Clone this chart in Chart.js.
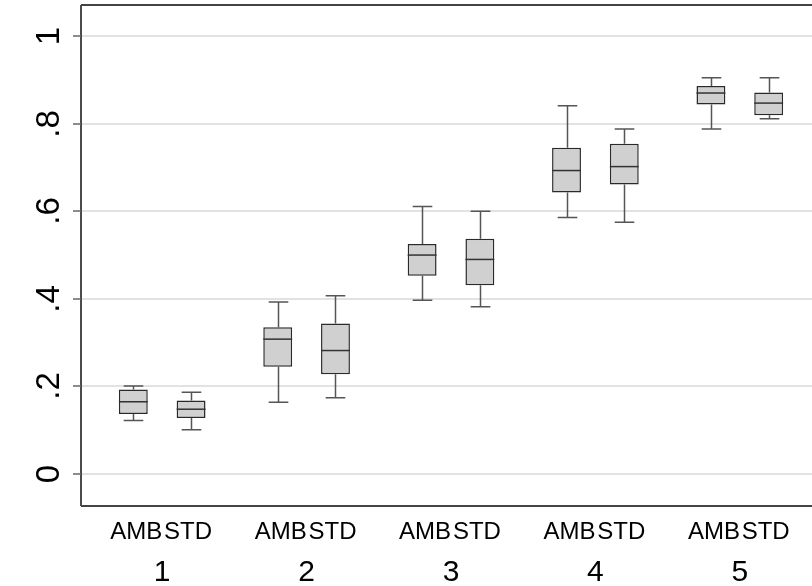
<!DOCTYPE html>
<html>
<head>
<meta charset="utf-8">
<script src="https://cdn.jsdelivr.net/npm/chart.js@4/dist/chart.umd.min.js"></script>
<style>
  html, body { margin: 0; padding: 0; background: #fff; }
  #chart { display: block; }
</style>
</head>
<body>
<canvas id="chart" width="812" height="586"></canvas>
<script>
// Groups and series
const groups = ['1', '2', '3', '4', '5'];
const seriesNames = ['AMB', 'STD'];

// AMB box stats
const ambLow = [0.122, 0.164, 0.397, 0.586, 0.788];
const ambQ1 = [0.137, 0.245, 0.453, 0.643, 0.844];
const ambMed = [0.165, 0.308, 0.500, 0.693, 0.870];
const ambQ3 = [0.193, 0.335, 0.525, 0.745, 0.886];
const ambHigh = [0.201, 0.393, 0.611, 0.841, 0.905];

// STD box stats
const stdLow = [0.101, 0.174, 0.382, 0.575, 0.811];
const stdQ1 = [0.128, 0.228, 0.431, 0.661, 0.819];
const stdMed = [0.148, 0.282, 0.490, 0.702, 0.847];
const stdQ3 = [0.168, 0.344, 0.537, 0.754, 0.871];
const stdHigh = [0.187, 0.407, 0.600, 0.788, 0.905];

// Y axis ticks
const yTicks = [0, 0.2, 0.4, 0.6, 0.8, 1];
const yTickLabels = ['0', '.2', '.4', '.6', '.8', '1'];

const stats = [
  { low: ambLow, med: ambMed, high: ambHigh },
  { low: stdLow, med: stdMed, high: stdHigh },
];

const FONT = '"Liberation Sans", Arial, sans-serif';
const FRAME_LEFT = 81;

/**
 * Whiskers, medians, grid, frame and labels
 */
const boxPlotExtras = {
  id: 'boxPlotExtras',
  beforeDatasetsDraw(chart) {
    const { ctx, chartArea } = chart;
    const y = chart.scales.y;

    // gridlines
    ctx.save();
    ctx.strokeStyle = '#e2e2e2';
    ctx.lineWidth = 2;
    yTicks.forEach((v) => {
      const py = Math.round(y.getPixelForValue(v));
      ctx.beginPath();
      ctx.moveTo(FRAME_LEFT, py);
      ctx.lineTo(chartArea.right, py);
      ctx.stroke();
    });

    // whiskers
    ctx.strokeStyle = '#555';
    ctx.lineWidth = 1.5;
    chart.data.datasets.forEach((ds, di) => {
      const meta = chart.getDatasetMeta(di);
      meta.data.forEach((bar, i) => {
        const s = stats[di];
        const cx = Math.round(bar.x) + 0.5;
        const half = bar.width * 0.34;
        const pLow = y.getPixelForValue(s.low[i]);
        const pHigh = y.getPixelForValue(s.high[i]);
        const pQ1 = y.getPixelForValue(ds.data[i][0]);
        const pQ3 = y.getPixelForValue(ds.data[i][1]);
        ctx.beginPath();
        ctx.moveTo(cx, pQ1);
        ctx.lineTo(cx, pLow);
        ctx.moveTo(cx, pQ3);
        ctx.lineTo(cx, pHigh);
        ctx.moveTo(cx - half, pLow);
        ctx.lineTo(cx + half, pLow);
        ctx.moveTo(cx - half, pHigh);
        ctx.lineTo(cx + half, pHigh);
        ctx.stroke();
      });
    });
    ctx.restore();
  },
  afterDatasetsDraw(chart) {
    const { ctx } = chart;
    const y = chart.scales.y;

    // medians
    ctx.save();
    ctx.strokeStyle = '#333';
    ctx.lineWidth = 1.5;
    chart.data.datasets.forEach((ds, di) => {
      const meta = chart.getDatasetMeta(di);
      meta.data.forEach((bar, i) => {
        const py = y.getPixelForValue(stats[di].med[i]);
        ctx.beginPath();
        ctx.moveTo(bar.x - bar.width / 2, py);
        ctx.lineTo(bar.x + bar.width / 2, py);
        ctx.stroke();
      });
    });
    ctx.restore();
  },
  afterDraw(chart) {
    const { ctx, chartArea } = chart;
    const x = chart.scales.x;
    const y = chart.scales.y;

    ctx.save();
    // frame
    ctx.strokeStyle = '#111';
    ctx.lineWidth = 1.5;
    ctx.beginPath();
    ctx.moveTo(FRAME_LEFT, chartArea.top);
    ctx.lineTo(FRAME_LEFT, chartArea.bottom);
    ctx.stroke();
    ctx.strokeStyle = '#444';
    ctx.lineWidth = 2;
    ctx.beginPath();
    ctx.moveTo(FRAME_LEFT, chartArea.top);
    ctx.lineTo(chartArea.right, chartArea.top);
    ctx.moveTo(FRAME_LEFT, chartArea.bottom);
    ctx.lineTo(chartArea.right, chartArea.bottom);
    ctx.stroke();

    // y tick marks and rotated labels
    ctx.strokeStyle = '#666';
    ctx.lineWidth = 1.5;
    ctx.fillStyle = '#000';
    ctx.font = `33px ${FONT}`;
    ctx.textAlign = 'center';
    ctx.textBaseline = 'middle';
    yTicks.forEach((v, i) => {
      const py = Math.round(y.getPixelForValue(v));
      ctx.beginPath();
      ctx.moveTo(FRAME_LEFT - 8, py);
      ctx.lineTo(FRAME_LEFT, py);
      ctx.stroke();
      ctx.save();
      ctx.translate(50, py);
      ctx.rotate(-Math.PI / 2);
      ctx.fillText(yTickLabels[i], 0, 0);
      ctx.restore();
    });

    // series names under each box
    ctx.textBaseline = 'alphabetic';
    ctx.font = `24px ${FONT}`;
    chart.data.datasets.forEach((ds, di) => {
      chart.getDatasetMeta(di).data.forEach((bar) => {
        ctx.fillText(seriesNames[di], bar.x + (di === 0 ? 3 : -3), 539);
      });
    });

    // group numbers
    ctx.font = `30px ${FONT}`;
    groups.forEach((g, i) => {
      ctx.fillText(g, x.getPixelForValue(i), 581);
    });
    ctx.restore();
  },
};

const boxStyle = {
  backgroundColor: '#d0d0d0',
  borderColor: '#2a2a2a',
  borderWidth: 1.5,
  borderSkipped: false,
  categoryPercentage: 0.8,
  barPercentage: 0.5,
};

new Chart(document.getElementById('chart'), {
  type: 'bar',
  data: {
    labels: groups,
    datasets: [
      { label: seriesNames[0], data: ambQ1.map((q, i) => [q, ambQ3[i]]), ...boxStyle },
      { label: seriesNames[1], data: stdQ1.map((q, i) => [q, stdQ3[i]]), ...boxStyle },
    ],
  },
  options: {
    responsive: false,
    animation: false,
    devicePixelRatio: 1,
    layout: { padding: { left: 90, right: 0, top: 5, bottom: 80 } },
    plugins: {
      legend: { display: false },
      tooltip: { enabled: false },
    },
    scales: {
      x: { display: false, offset: true },
      y: { display: false, min: -0.073, max: 1.071 },
    },
  },
  plugins: [boxPlotExtras],
});
</script>
</body>
</html>
